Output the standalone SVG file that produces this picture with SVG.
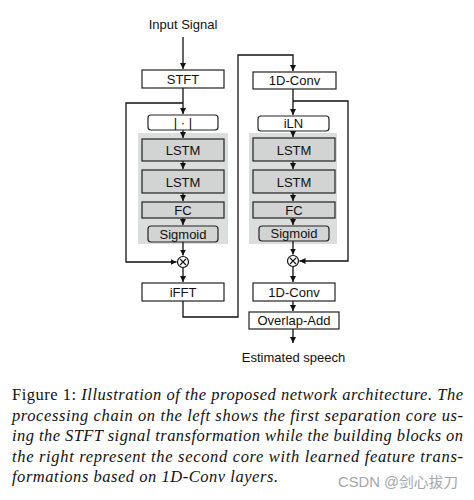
<svg xmlns="http://www.w3.org/2000/svg" width="474" height="500" viewBox="0 0 474 500">
<defs>
<marker id="ah" markerUnits="userSpaceOnUse" markerWidth="7" markerHeight="6" refX="6" refY="3" orient="auto">
<path d="M0,0 L6,3 L0,6 z" fill="#111"/>
</marker>
<style>
.box{fill:#fff;stroke:#222;stroke-width:1.2}
.gbox{fill:#d2d3d3;stroke:#222;stroke-width:1.2}
.area{fill:#dcdddd;stroke:none}
.lbl{font-family:"Liberation Sans",Arial,sans-serif;font-size:13px;fill:#111;text-anchor:middle}
.ln{fill:none;stroke:#111;stroke-width:1.3}
.cap{font-family:"Liberation Serif","Times New Roman",serif;font-size:16.5px;fill:#111}
</style>
</defs>
<rect width="474" height="500" fill="#fff"/>

<rect class="area" x="138" y="133" width="90" height="111"/>
<rect class="area" x="249" y="133" width="88" height="111"/>

<g id="connectors">
<path class="ln" d="M183,37 V69" marker-end="url(#ah)"/>
<path class="ln" d="M183,88 V114" marker-end="url(#ah)"/>
<path class="ln" d="M183,103 H126 V262 H176.5" marker-end="url(#ah)"/>
<path class="ln" d="M183,130 V138" marker-end="url(#ah)"/>
<path class="ln" d="M183,161 V169" marker-end="url(#ah)"/>
<path class="ln" d="M183,193 V201" marker-end="url(#ah)"/>
<path class="ln" d="M183,218 V225" marker-end="url(#ah)"/>
<path class="ln" d="M183,242 V255.5" marker-end="url(#ah)"/>
<path class="ln" d="M183,267.5 V282" marker-end="url(#ah)"/>
<path class="ln" d="M183,301 V317 H238 V55 H293 V71" marker-end="url(#ah)"/>
<path class="ln" d="M293,89 V115" marker-end="url(#ah)"/>
<path class="ln" d="M293,101 H348 V261 H299.5" marker-end="url(#ah)"/>
<path class="ln" d="M293,131 V137" marker-end="url(#ah)"/>
<path class="ln" d="M293,161 V169" marker-end="url(#ah)"/>
<path class="ln" d="M293,193 V201" marker-end="url(#ah)"/>
<path class="ln" d="M293,218 V225" marker-end="url(#ah)"/>
<path class="ln" d="M293,241 V254.5" marker-end="url(#ah)"/>
<path class="ln" d="M293,266.5 V282" marker-end="url(#ah)"/>
<path class="ln" d="M293,301 V311" marker-end="url(#ah)"/>
<path class="ln" d="M293,329 V343" marker-end="url(#ah)"/>
</g>

<g id="input"><text class="lbl" x="183" y="29">Input Signal</text></g>
<g id="stft"><rect class="box" x="142" y="70" width="82" height="18"/><text class="lbl" x="183" y="83.5">STFT</text></g>
<g id="abs"><rect class="box" x="148" y="115" width="70" height="15" rx="3"/><text class="lbl" x="183" y="127">| · |</text></g>
<g id="lstm1a"><rect class="gbox" x="142" y="139" width="82" height="22"/><text class="lbl" x="183" y="155">LSTM</text></g>
<g id="lstm1b"><rect class="gbox" x="142" y="170" width="82" height="23"/><text class="lbl" x="183" y="186.5">LSTM</text></g>
<g id="fc1"><rect class="gbox" x="142" y="202" width="82" height="16"/><text class="lbl" x="183" y="214.5">FC</text></g>
<g id="sig1"><rect class="gbox" x="148" y="226" width="70" height="16" rx="3"/><text class="lbl" x="183" y="238.5">Sigmoid</text></g>
<g id="mul1"><circle cx="183" cy="262" r="5.5" fill="#fff" stroke="#111" stroke-width="1.2"/><path d="M180,259 L186,265 M186,259 L180,265" stroke="#111" stroke-width="1.1"/></g>
<g id="ifft"><rect class="box" x="142" y="283" width="82" height="18"/><text class="lbl" x="183" y="296.5">iFFT</text></g>

<g id="conv1"><rect class="box" x="253" y="72" width="83" height="17"/><text class="lbl" x="294.5" y="85">1D-Conv</text></g>
<g id="iln"><rect class="box" x="258" y="116" width="71" height="15" rx="3"/><text class="lbl" x="293.5" y="128">iLN</text></g>
<g id="lstm2a"><rect class="gbox" x="253" y="138" width="82" height="23"/><text class="lbl" x="294" y="154.5">LSTM</text></g>
<g id="lstm2b"><rect class="gbox" x="253" y="170" width="82" height="23"/><text class="lbl" x="294" y="186.5">LSTM</text></g>
<g id="fc2"><rect class="gbox" x="253" y="202" width="82" height="16"/><text class="lbl" x="294" y="214.5">FC</text></g>
<g id="sig2"><rect class="gbox" x="259" y="226" width="70" height="15" rx="3"/><text class="lbl" x="294" y="238">Sigmoid</text></g>
<g id="mul2"><circle cx="293" cy="261" r="5.5" fill="#fff" stroke="#111" stroke-width="1.2"/><path d="M290,258 L296,264 M296,258 L290,264" stroke="#111" stroke-width="1.1"/></g>
<g id="conv2"><rect class="box" x="253" y="283" width="82" height="18"/><text class="lbl" x="294" y="296.5">1D-Conv</text></g>
<g id="ola"><rect class="box" x="249" y="312" width="90" height="17"/><text class="lbl" x="294" y="325">Overlap-Add</text></g>
<g id="out"><text class="lbl" x="293.5" y="362">Estimated speech</text></g>

<g id="caption">
<text class="cap" x="12" y="400" textLength="451" lengthAdjust="spacing">Figure 1: <tspan font-style="italic">Illustration of the proposed network architecture. The</tspan></text>
<text class="cap" x="12" y="420.5" textLength="451" lengthAdjust="spacing" font-style="italic">processing chain on the left shows the first separation core us-</text>
<text class="cap" x="12" y="441" textLength="451" lengthAdjust="spacing" font-style="italic">ing the STFT signal transformation while the building blocks on</text>
<text class="cap" x="12" y="461.5" textLength="451" lengthAdjust="spacing" font-style="italic">the right represent the second core with learned feature trans-</text>
<text class="cap" x="12" y="482" textLength="266" lengthAdjust="spacing" font-style="italic">formations based on 1D-Conv layers.</text>
</g>
<text x="338" y="487" font-family="'Liberation Sans','Noto Sans CJK SC',sans-serif" font-size="14" fill="#a5a5a5" textLength="120" lengthAdjust="spacingAndGlyphs">CSDN @剑心拔刀</text>
</svg>
